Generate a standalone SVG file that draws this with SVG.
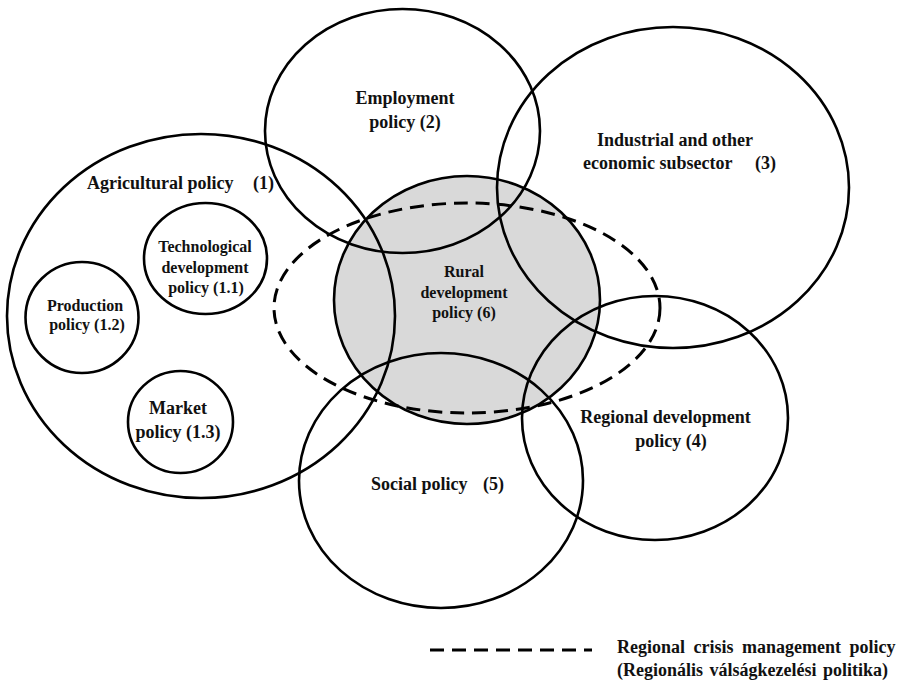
<svg xmlns="http://www.w3.org/2000/svg" width="912" height="685" viewBox="0 0 912 685">
<style>
.c{fill:none;stroke:#000;stroke-width:2.6}
.d{fill:none;stroke:#000;stroke-width:3;stroke-dasharray:14 8}
.t{font-family:"Liberation Serif","Times New Roman",serif;font-weight:bold;fill:#111;text-anchor:middle}
.s{font-size:16px}
.m{font-size:18px}
.l{text-anchor:start}
</style>
<rect width="912" height="685" fill="#fff"/>
<g id="rural">
<ellipse cx="467" cy="300" rx="133" ry="124" fill="#d9d9d9" stroke="#000" stroke-width="2.6"/>
<text class="t s" x="464" y="277" fill="#222">Rural</text>
<text class="t s" x="464" y="298">development</text>
<text class="t s" x="464" y="318">policy (6)</text>
</g>
<g id="agricultural">
<ellipse class="c" cx="201" cy="316" rx="194" ry="182"/>
<text class="t m l" x="87" y="189">Agricultural policy</text>
<text class="t m l" x="253" y="189">(1)</text>
</g>
<g id="technological">
<ellipse class="c" cx="205.5" cy="258.5" rx="61.5" ry="55.5"/>
<text class="t s" x="205" y="252">Technological</text>
<text class="t s" x="205" y="273">development</text>
<text class="t s" x="206" y="293">policy (1.1)</text>
</g>
<g id="production">
<ellipse class="c" cx="82" cy="317.5" rx="56.5" ry="55.5"/>
<text class="t s" x="85" y="311">Production</text>
<text class="t s" x="87" y="330">policy (1.2)</text>
</g>
<g id="market">
<ellipse class="c" cx="180.5" cy="422" rx="52.5" ry="51"/>
<text class="t m" x="178" y="414">Market</text>
<text class="t m" x="178" y="438">policy (1.3)</text>
</g>
<g id="employment">
<ellipse class="c" cx="402.5" cy="131" rx="137.5" ry="122"/>
<text class="t m" x="405" y="104">Employment</text>
<text class="t m" x="405" y="128">policy (2)</text>
</g>
<g id="industrial">
<ellipse class="c" cx="673" cy="187.5" rx="176" ry="160.5"/>
<text class="t m" x="675" y="146">Industrial and other</text>
<text class="t m l" x="583" y="169">economic subsector</text>
<text class="t m l" x="755" y="169">(3)</text>
</g>
<g id="regional">
<ellipse class="c" cx="655" cy="418" rx="133" ry="122"/>
<text class="t m" x="665.5" y="423">Regional development</text>
<text class="t m" x="671" y="447">policy (4)</text>
</g>
<g id="social">
<ellipse class="c" cx="441" cy="480.5" rx="142" ry="127.5"/>
<text class="t m l" x="371" y="490">Social policy</text>
<text class="t m l" x="483" y="490">(5)</text>
</g>
<g id="crisis">
<ellipse class="d" cx="467" cy="308" rx="193" ry="105"/>
</g>
<g id="connectors"></g>
<g id="legend">
<line class="d" x1="430" y1="650" x2="592" y2="650"/>
<text class="t m l" x="617" y="653" word-spacing="4">Regional crisis management policy</text>
<text class="t m l" x="617" y="676" word-spacing="2">(Regionális válságkezelési politika)</text>
</g>
</svg>
